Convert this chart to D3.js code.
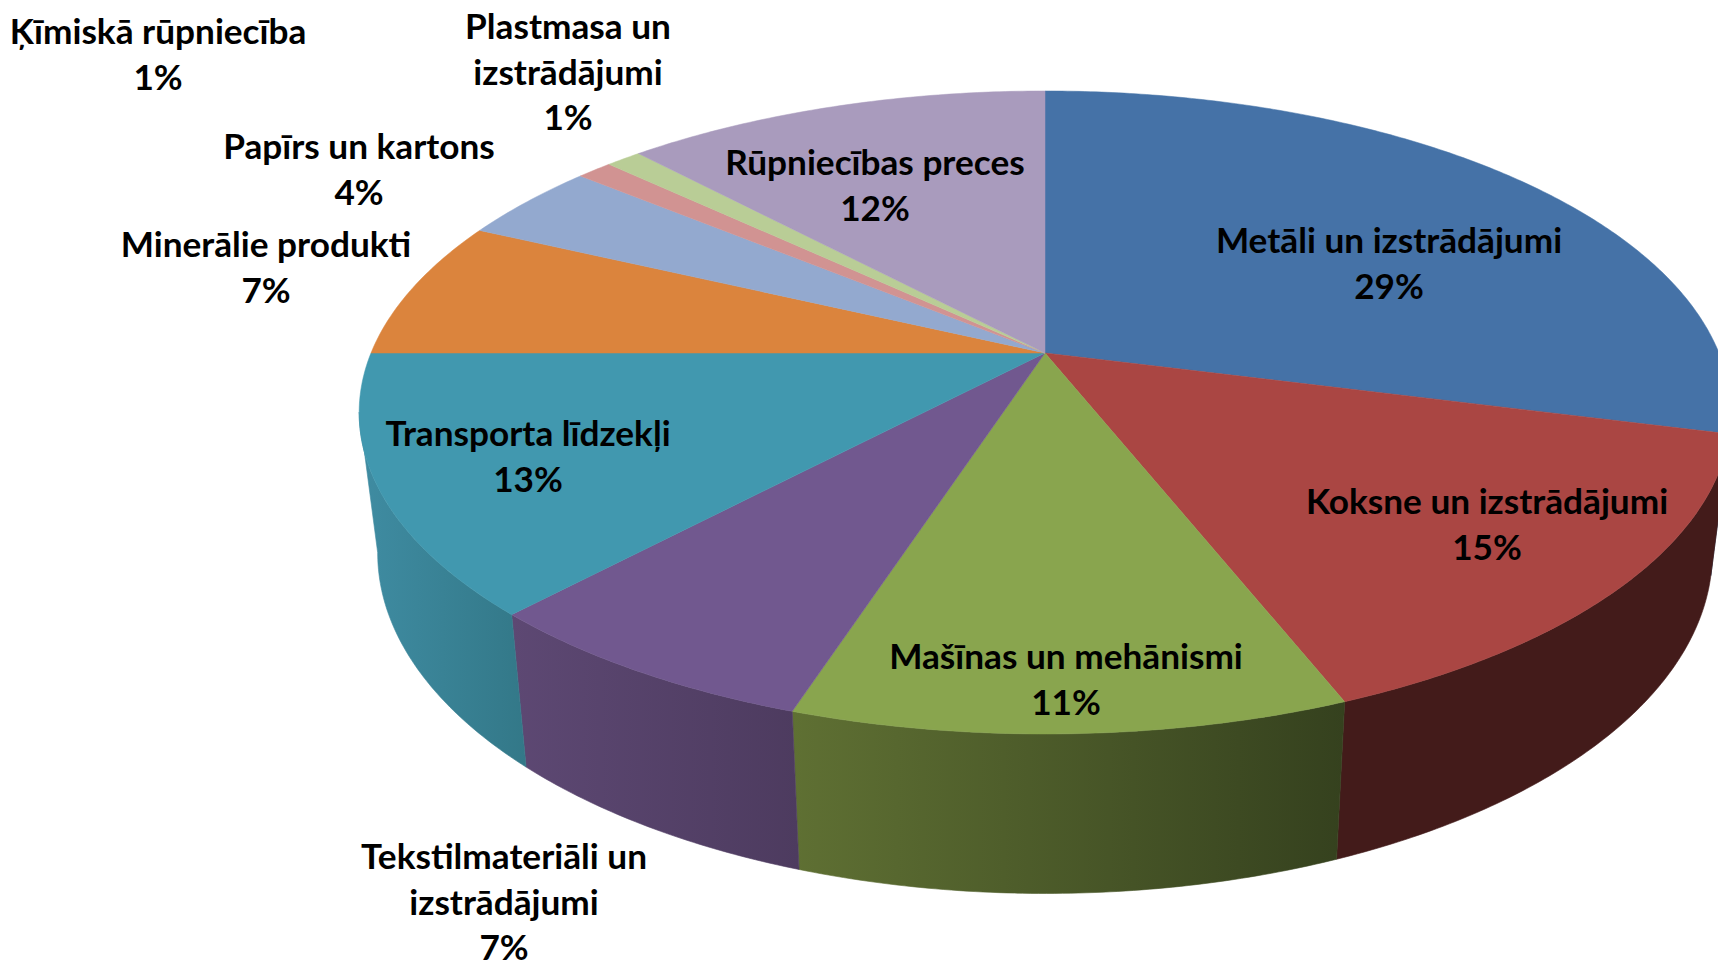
<!DOCTYPE html>
<html lang="lv">
<head>
<meta charset="utf-8">
<title>Rūpniecības preces</title>
<script src="https://cdn.jsdelivr.net/npm/d3@7/dist/d3.min.js"></script>
<style>
  html, body { margin: 0; padding: 0; background: #fff; overflow: hidden; }
  svg { display: block; }
  text { font-family: Lato, "Open Sans", "Noto Sans", sans-serif; font-weight: 700; fill: #000; }
</style>
</head>
<body>
<script>
// ---- data ----
const categories = [
  "Metāli un izstrādājumi", "Koksne un izstrādājumi", "Mašīnas un mehānismi",
  "Tekstilmateriāli un izstrādājumi", "Transporta līdzekļi", "Minerālie produkti",
  "Papīrs un kartons", "Ķīmiskā rūpniecība", "Plastmasa un izstrādājumi", "Rūpniecības preces"
];
const shares = [29, 15, 11, 7, 13, 7, 4, 1, 1, 12];

// ---- styles ----
const topColours = ["#4572A7", "#AA4643", "#89A54E", "#71588F", "#4198AF", "#DB843D", "#93A9CF", "#D19392", "#B9CD96", "#A99BBD"];
const wallColoursLeft  = ["#2a4564", "#431B1A", "#5F7033", "#5D4873", "#3F8CA2", "#8a5326", "#5c6a82", "#83605f", "#74805e", "#6a6176"];
const wallColoursRight = ["#2a4564", "#431B1A", "#35411E", "#4D3B5F", "#337888", "#8a5326", "#5c6a82", "#83605f", "#74805e", "#6a6176"];

// ---- label layout ----
const labelLines = [
  ["Metāli un izstrādājumi"], ["Koksne un izstrādājumi"], ["Mašīnas un mehānismi"],
  ["Tekstilmateriāli un", "izstrādājumi"], ["Transporta līdzekļi"], ["Minerālie produkti"],
  ["Papīrs un kartons"], ["Ķīmiskā rūpniecība"], ["Plastmasa un", "izstrādājumi"], ["Rūpniecības preces"]
];
const labelX = [1389, 1487, 1066, 504, 528, 266, 359, 158, 568, 875];
const labelY = [239, 500, 655, 855, 432, 243, 145, 30, 25, 161];

// ---- geometry: perspective projection of the pie disc ----
const W = 1718, H = 960;
const cx = 1045, cy = 353, A = 674, B = 310.5, K = 0.185;
const bottomScaleX = 0.973, bottomScaleY = 1.059, bottomY = 490;
const lineGap = 45.6, fontPx = 35.2;
// generators where the side wall turns away from the viewer (radians)
const wallFrom = 100.6 * Math.PI / 180, wallTo = 259.4 * Math.PI / 180;

function rimTop(t) {
  const u = Math.sin(t), v = -Math.cos(t), d = 1 - K * v;
  return [cx + A * u / d, cy + B * v / d];
}
function rimBottom(t) {
  const [x, y] = rimTop(t);
  return [cx + (x - cx) * bottomScaleX, bottomY + (y - cy) * bottomScaleY];
}

const pie = d3.pie().sort(null).value(d => d);
const arcs = pie(shares);
const line = d3.line();

function sampleAngles(a0, a1) {
  const n = Math.max(8, Math.ceil((a1 - a0) / 0.01));
  return d3.range(n + 1).map(i => a0 + (a1 - a0) * i / n);
}

const svg = d3.select("body").append("svg").attr("width", W).attr("height", H);
svg.append("rect").attr("width", W).attr("height", H).attr("fill", "#fff");

const defs = svg.append("defs");
arcs.forEach((a, i) => {
  const xs = sampleAngles(a.startAngle, a.endAngle).flatMap(t => [rimTop(t)[0], rimBottom(t)[0]]);
  const g = defs.append("linearGradient").attr("id", "wall" + i)
    .attr("gradientUnits", "userSpaceOnUse")
    .attr("x1", d3.min(xs)).attr("x2", d3.max(xs)).attr("y1", 0).attr("y2", 0);
  g.append("stop").attr("offset", 0).attr("stop-color", wallColoursLeft[i]);
  g.append("stop").attr("offset", 1).attr("stop-color", wallColoursRight[i]);
});

// side walls: only the part facing the viewer
const visibleWalls = arcs
  .map((d, i) => ({ i, a0: Math.max(d.startAngle, wallFrom), a1: Math.min(d.endAngle, wallTo) }))
  .filter(w => w.a1 > w.a0);
svg.append("g").selectAll("path").data(visibleWalls).join("path")
  .attr("fill", d => `url(#wall${d.i})`)
  .attr("stroke", d => `url(#wall${d.i})`)
  .attr("stroke-width", 0.6)
  .attr("d", d => {
    const ts = sampleAngles(d.a0, d.a1);
    return line(ts.map(rimTop).concat(ts.slice().reverse().map(rimBottom))) + "Z";
  });

// top surface
svg.append("g").selectAll("path").data(arcs).join("path")
  .attr("fill", (d, i) => topColours[i])
  .attr("stroke", (d, i) => topColours[i])
  .attr("stroke-width", 0.5)
  .attr("d", d => line([[cx, cy]].concat(sampleAngles(d.startAngle, d.endAngle).map(rimTop))) + "Z");

// labels
const labels = svg.append("g").selectAll("text").data(categories).join("text")
  .attr("text-anchor", "middle")
  .attr("font-size", fontPx)
  .attr("dominant-baseline", "central");
labels.each(function (d, i) {
  const rows = labelLines[i].concat([shares[i] + "%"]);
  d3.select(this).selectAll("tspan").data(rows).join("tspan")
    .attr("x", labelX[i])
    .attr("y", (r, j) => labelY[i] + j * lineGap)
    .text(r => r);
});
</script>
</body>
</html>
